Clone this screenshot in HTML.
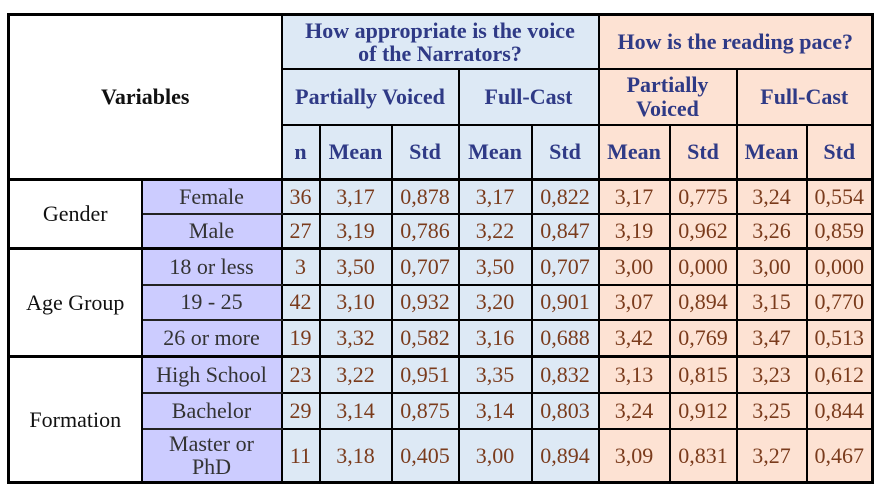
<!DOCTYPE html>
<html><head><style>
body{margin:0;background:#fff;width:877px;height:488px;overflow:hidden}
table{position:absolute;left:7px;top:13px;border-collapse:collapse;table-layout:fixed;font-family:"Liberation Serif",serif;font-size:22px;border:3px solid #000}
td{border:2.5px solid #000;padding:0;text-align:center;vertical-align:middle;line-height:1.05;overflow:hidden;white-space:nowrap}
.h{font-weight:bold;color:#2f3a86}
.b{background:#dde9f5}
.p{background:#fde2d3}
.v{background:#ccccff;color:#333;border-top:2px solid #222;border-bottom:2px solid #222}
.w{background:#fff;color:#111}
.n{color:#7a3b1c}
tr.g td{border-top:3px solid #000}
</style></head><body>
<table>
<colgroup><col style="width:133px"><col style="width:140px"><col style="width:38px"><col style="width:72px"><col style="width:67px"><col style="width:73px"><col style="width:67px"><col style="width:71px"><col style="width:67px"><col style="width:70px"><col style="width:66px"></colgroup>
<tr style="height:54px"><td colspan="2" rowspan="3" class="w" style="font-weight:bold;font-size:22px">Variables</td><td colspan="5" class="b h">How appropriate is the voice<br>of the Narrators?</td><td colspan="4" class="p h">How is the reading pace?</td></tr>
<tr style="height:56px"><td colspan="3" class="b h">Partially Voiced</td><td colspan="2" class="b h">Full-Cast</td><td colspan="2" class="p h">Partially<br>Voiced</td><td colspan="2" class="p h">Full-Cast</td></tr>
<tr style="height:55px"><td class="b h">n</td><td class="b h">Mean</td><td class="b h">Std</td><td class="b h">Mean</td><td class="b h">Std</td><td class="p h">Mean</td><td class="p h">Std</td><td class="p h">Mean</td><td class="p h">Std</td></tr>
<tr class="g" style="height:34px"><td rowspan="2" class="w">Gender</td><td class="v">Female</td><td class="b n">36</td><td class="b n">3,17</td><td class="b n">0,878</td><td class="b n">3,17</td><td class="b n">0,822</td><td class="p n">3,17</td><td class="p n">0,775</td><td class="p n">3,24</td><td class="p n">0,554</td></tr>
<tr style="height:35px"><td class="v">Male</td><td class="b n">27</td><td class="b n">3,19</td><td class="b n">0,786</td><td class="b n">3,22</td><td class="b n">0,847</td><td class="p n">3,19</td><td class="p n">0,962</td><td class="p n">3,26</td><td class="p n">0,859</td></tr>
<tr class="g" style="height:36px"><td rowspan="3" class="w">Age Group</td><td class="v">18 or less</td><td class="b n">3</td><td class="b n">3,50</td><td class="b n">0,707</td><td class="b n">3,50</td><td class="b n">0,707</td><td class="p n">3,00</td><td class="p n">0,000</td><td class="p n">3,00</td><td class="p n">0,000</td></tr>
<tr style="height:35px"><td class="v">19 - 25</td><td class="b n">42</td><td class="b n">3,10</td><td class="b n">0,932</td><td class="b n">3,20</td><td class="b n">0,901</td><td class="p n">3,07</td><td class="p n">0,894</td><td class="p n">3,15</td><td class="p n">0,770</td></tr>
<tr style="height:37px"><td class="v">26 or more</td><td class="b n">19</td><td class="b n">3,32</td><td class="b n">0,582</td><td class="b n">3,16</td><td class="b n">0,688</td><td class="p n">3,42</td><td class="p n">0,769</td><td class="p n">3,47</td><td class="p n">0,513</td></tr>
<tr class="g" style="height:36px"><td rowspan="3" class="w">Formation</td><td class="v">High School</td><td class="b n">23</td><td class="b n">3,22</td><td class="b n">0,951</td><td class="b n">3,35</td><td class="b n">0,832</td><td class="p n">3,13</td><td class="p n">0,815</td><td class="p n">3,23</td><td class="p n">0,612</td></tr>
<tr style="height:36px"><td class="v">Bachelor</td><td class="b n">29</td><td class="b n">3,14</td><td class="b n">0,875</td><td class="b n">3,14</td><td class="b n">0,803</td><td class="p n">3,24</td><td class="p n">0,912</td><td class="p n">3,25</td><td class="p n">0,844</td></tr>
<tr style="height:54px"><td class="v">Master or<br>PhD</td><td class="b n">11</td><td class="b n">3,18</td><td class="b n">0,405</td><td class="b n">3,00</td><td class="b n">0,894</td><td class="p n">3,09</td><td class="p n">0,831</td><td class="p n">3,27</td><td class="p n">0,467</td></tr>
</table>
</body></html>
